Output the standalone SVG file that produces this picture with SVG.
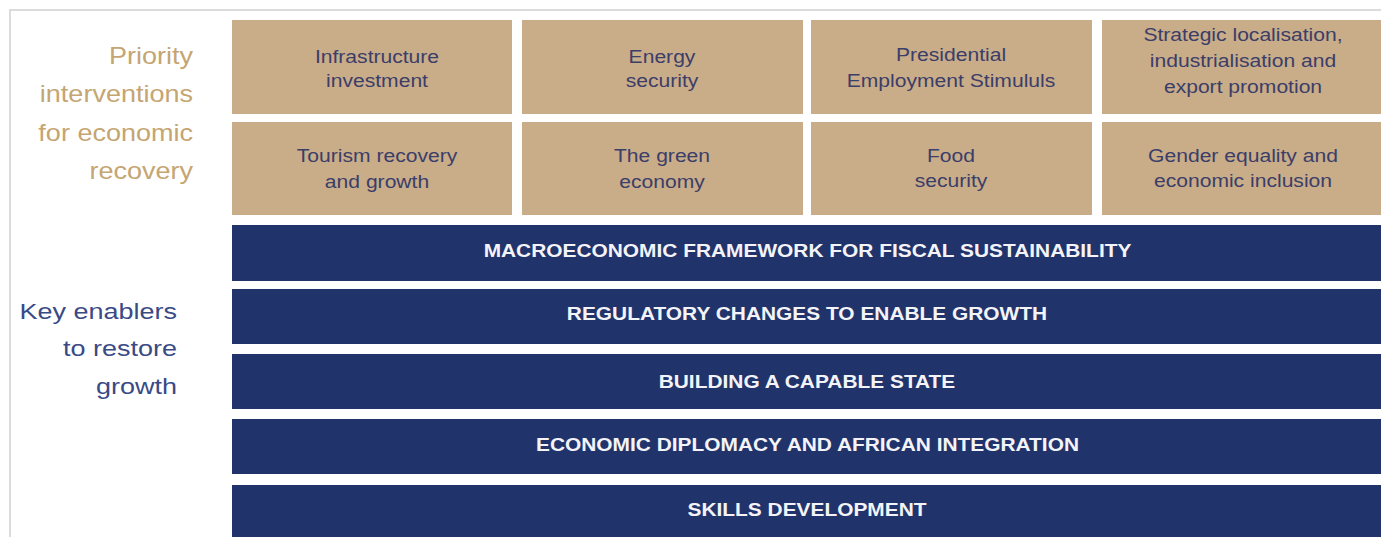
<svg xmlns="http://www.w3.org/2000/svg" width="1381" height="537" viewBox="0 0 1381 537">
<style>
.frame{fill:none;stroke:#dcdcdc;stroke-width:2}
.box{fill:#c9ac88}
.bar{fill:#21336b}
.bt{font-family:"Liberation Sans",Arial,sans-serif;font-size:18.5px;fill:#3b3e68;text-anchor:middle}
.rt{font-family:"Liberation Sans",Arial,sans-serif;font-size:18.5px;font-weight:bold;fill:#f4f4f8;text-anchor:middle}
.lt1{font-family:"Liberation Sans",Arial,sans-serif;font-size:23.5px;fill:#c5a572;text-anchor:end}
.lt2{font-family:"Liberation Sans",Arial,sans-serif;font-size:22.5px;fill:#3a4a86;text-anchor:end}
</style>
<rect width="1381" height="537" fill="#ffffff"/>
<path class="frame" d="M10,537 V10 H1381"/>
<g id="label-priority"><text class="lt1" transform="translate(193,64) scale(1.15,1)"><tspan x="0" y="0">Priority</tspan><tspan x="0" y="38.5">interventions</tspan><tspan x="0" y="77">for economic</tspan><tspan x="0" y="115.5">recovery</tspan></text></g>
<g id="label-enablers"><text class="lt2" transform="translate(177,319) scale(1.2,1)"><tspan x="0" y="0">Key enablers</tspan><tspan x="0" y="37.5">to restore</tspan><tspan x="0" y="75">growth</tspan></text></g>
<g id="n-infrastructure"><rect class="box" x="232" y="20" width="280" height="94"/><text class="bt" transform="translate(377,63) scale(1.14,1)"><tspan x="0" y="0">Infrastructure</tspan><tspan x="0" y="24.5">investment</tspan></text></g>
<g id="n-energy"><rect class="box" x="522" y="20" width="281" height="94"/><text class="bt" transform="translate(662,63) scale(1.14,1)"><tspan x="0" y="0">Energy</tspan><tspan x="0" y="24.5">security</tspan></text></g>
<g id="n-pes"><rect class="box" x="811" y="20" width="281" height="94"/><text class="bt" transform="translate(951,61) scale(1.14,1)"><tspan x="0" y="0">Presidential</tspan><tspan x="0" y="26">Employment Stimululs</tspan></text></g>
<g id="n-strategic"><rect class="box" x="1102" y="20" width="284" height="94"/><text class="bt" transform="translate(1243,40.5) scale(1.14,1)"><tspan x="0" y="0">Strategic localisation,</tspan><tspan x="0" y="26.5">industrialisation and</tspan><tspan x="0" y="53">export promotion</tspan></text></g>
<g id="n-tourism"><rect class="box" x="232" y="122" width="280" height="93"/><text class="bt" transform="translate(377,162) scale(1.14,1)"><tspan x="0" y="0">Tourism recovery</tspan><tspan x="0" y="26">and growth</tspan></text></g>
<g id="n-green"><rect class="box" x="522" y="122" width="281" height="93"/><text class="bt" transform="translate(662,162) scale(1.14,1)"><tspan x="0" y="0">The green</tspan><tspan x="0" y="26">economy</tspan></text></g>
<g id="n-food"><rect class="box" x="811" y="122" width="281" height="93"/><text class="bt" transform="translate(951,162) scale(1.14,1)"><tspan x="0" y="0">Food</tspan><tspan x="0" y="25">security</tspan></text></g>
<g id="n-gender"><rect class="box" x="1102" y="122" width="284" height="93"/><text class="bt" transform="translate(1243,162) scale(1.14,1)"><tspan x="0" y="0">Gender equality and</tspan><tspan x="0" y="25">economic inclusion</tspan></text></g>
<g id="n-macro"><rect class="bar" x="232" y="225" width="1154" height="56"/><text class="rt" transform="translate(807.5,257) scale(1.13,1)">MACROECONOMIC FRAMEWORK FOR FISCAL SUSTAINABILITY</text></g>
<g id="n-regulatory"><rect class="bar" x="232" y="289" width="1154" height="55"/><text class="rt" transform="translate(807,320) scale(1.13,1)">REGULATORY CHANGES TO ENABLE GROWTH</text></g>
<g id="n-capable"><rect class="bar" x="232" y="354" width="1154" height="55"/><text class="rt" transform="translate(807,388) scale(1.13,1)">BUILDING A CAPABLE STATE</text></g>
<g id="n-diplomacy"><rect class="bar" x="232" y="419" width="1154" height="55"/><text class="rt" transform="translate(807.5,451) scale(1.13,1)">ECONOMIC DIPLOMACY AND AFRICAN INTEGRATION</text></g>
<g id="n-skills"><rect class="bar" x="232" y="485" width="1154" height="60"/><text class="rt" transform="translate(807,516) scale(1.13,1)">SKILLS DEVELOPMENT</text></g>
<g id="connectors"></g>
</svg>
